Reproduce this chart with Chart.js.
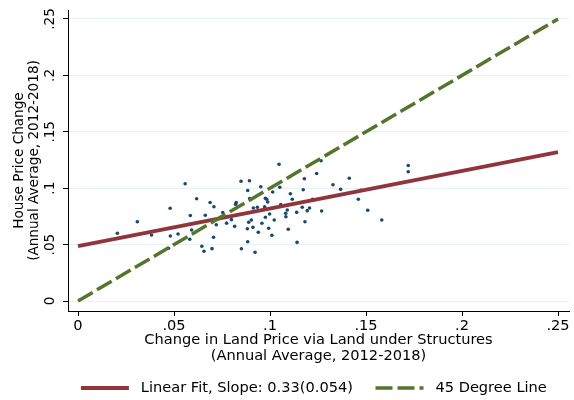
<!DOCTYPE html>
<html>
<head>
<meta charset="utf-8">
<script src="https://cdn.jsdelivr.net/npm/chart.js@4"></script>
<style>
html,body{margin:0;padding:0;background:#ffffff;}
#wrap{width:574px;height:400px;}
</style>
</head>
<body>
<div id="wrap"><canvas id="c" width="574" height="400"></canvas></div>
<script>
// ---- data ----
const landX = [0.0205,0.0309,0.0383,0.0480,0.0481,0.0521,0.0558,0.0471,0.0585,0.0592,0.0582,0.0618,0.0663,0.0645,0.0656,0.0688,0.0706,0.0698,0.0708,0.0720,0.0754,0.0774,0.0799,0.0816,0.0821,0.0824,0.0849,0.0893,0.0884,0.0952,0.0894,0.0882,0.0884,0.0851,0.0922,0.0889,0.0903,0.0911,0.0913,0.0934,0.0939,0.0958,0.0972,0.0976,0.0976,0.0983,0.0988,0.0998,0.0993,0.1010,0.1014,0.1022,0.1051,0.1056,0.1082,0.1083,0.1090,0.1095,0.1106,0.1116,0.1141,0.1139,0.1168,0.1173,0.1179,0.1182,0.1194,0.1206,0.1222,0.1243,0.1269,0.1266,0.1328,0.1368,0.1413,0.1460,0.1472,0.1509,0.1582,0.1720,0.1720,0.1047];
const houseY = [0.0600,0.0703,0.0585,0.0822,0.0576,0.0594,0.1039,0.0468,0.0758,0.0629,0.0548,0.0907,0.0760,0.0485,0.0441,0.0873,0.0565,0.0464,0.0836,0.0676,0.0785,0.0690,0.0721,0.0662,0.0857,0.0873,0.1061,0.1066,0.0980,0.1013,0.0909,0.0641,0.0525,0.0463,0.0432,0.0698,0.0718,0.0653,0.0824,0.0831,0.0609,0.0689,0.0836,0.0742,0.0910,0.0902,0.0878,0.0771,0.0645,0.0582,0.0966,0.0718,0.1008,0.0854,0.0777,0.0747,0.0807,0.0636,0.0951,0.0902,0.0520,0.0786,0.0831,0.0986,0.1084,0.0703,0.0801,0.0824,0.0902,0.1130,0.0798,0.1244,0.1031,0.0990,0.1088,0.0902,0.0982,0.0805,0.0718,0.1201,0.1146,0.1212];

const fitX = [0, 0.25];
const fitY = [0.0487, 0.132];
const diagX = [0, 0.25];
const diagY = [0, 0.25];

const xTicks = [0, 0.05, 0.1, 0.15, 0.2, 0.25];
const yTicks = [0, 0.05, 0.1, 0.15, 0.2, 0.25];

const fitLabel = 'Linear Fit, Slope: 0.33(0.054)';
const diagLabel = '45 Degree Line';
const xTitle = ['Change in Land Price via Land under Structures', '(Annual Average, 2012-2018)'];
const yTitle = ['House Price Change', '(Annual Average, 2012-2018)'];

// ---- styling ----
const FAM = "'DejaVu Sans', sans-serif";
const navy = '#1a476f';
const maroon = '#90353b';
const forest = '#55752f';
const gridCol = '#e6eff1';
const HFS = 14.6;   // horizontal text size
const VFS = 13.6;   // vertical text size
const PAD_BOTTOM = -5.3;
const LEG_PAD = 4;
const legendH = HFS + LEG_PAD + 10;

function fmt(v) {
  if (Math.abs(v) < 1e-9) return '0';
  return v.toFixed(2).replace(/0+$/, '').replace(/^0/, '');
}

const pts = landX.map((x, i) => ({x: x, y: houseY[i]}));
const fitPts = fitX.map((x, i) => ({x: x, y: fitY[i]}));
const diagPts = diagX.map((x, i) => ({x: x, y: diagY[i]}));

new Chart(document.getElementById('c'), {
  type: 'scatter',
  data: {
    datasets: [
      {label: diagLabel, data: diagPts, showLine: true, borderColor: forest, backgroundColor: forest,
       borderWidth: 3.5, borderDash: [17, 5], pointRadius: 0, order: 0},
      {label: fitLabel, data: fitPts, showLine: true, borderColor: maroon, backgroundColor: maroon,
       borderWidth: 3.8, pointRadius: 0, order: 1},
      {label: 'data', data: pts, showLine: false, backgroundColor: navy, borderColor: navy,
       borderWidth: 0, pointRadius: 1.8, order: 2}
    ]
  },
  options: {
    responsive: false,
    animation: false,
    devicePixelRatio: 1,
    layout: {padding: {left: 0, right: 5, top: 10, bottom: PAD_BOTTOM}},
    plugins: {
      tooltip: {enabled: false},
      legend: {
        position: 'bottom',
        fullSize: false,
        labels: {
          usePointStyle: true,
          pointStyleWidth: 48,
          boxHeight: HFS,
          padding: LEG_PAD,
          color: '#000',
          font: {family: FAM, size: HFS},
          generateLabels: (chart) => {
            const ds = chart.data.datasets;
            const mk = (idx, text) => ({
              text: text, datasetIndex: idx, hidden: false,
              fillStyle: ds[idx].borderColor, strokeStyle: ds[idx].borderColor,
              lineWidth: ds[idx].borderWidth, lineDash: ds[idx].borderDash || [],
              lineCap: 'butt', pointStyle: 'line', fontColor: '#000'
            });
            return [mk(1, ' ' + fitLabel + '    '), mk(0, ' ' + diagLabel + '  ')];
          }
        }
      }
    },
    scales: {
      x: {
        type: 'linear',
        min: -10 / 1920,
        max: -10 / 1920 + 501 / 1920,
        afterBuildTicks: (s) => { s.ticks = xTicks.map(v => ({value: v})); },
        afterFit: (s) => { s.height = 400 - PAD_BOTTOM - legendH - 311; },
        border: {display: true, color: '#000', width: 1},
        grid: {drawOnChartArea: false, drawTicks: true, tickLength: 5, tickColor: '#000', tickWidth: 1},
        ticks: {color: '#000', padding: 1, autoSkip: false, maxRotation: 0, minRotation: 0,
                font: {family: FAM, size: HFS}, callback: (v) => fmt(v)},
        title: {display: true, text: xTitle, color: '#000',
                font: {family: FAM, size: HFS, lineHeight: 1.04},
                padding: {top: 0, bottom: 13.4}}
      },
      y: {
        type: 'linear',
        min: -10 / 1128,
        max: -10 / 1128 + 301 / 1128,
        afterBuildTicks: (s) => { s.ticks = yTicks.map(v => ({value: v})); },
        afterFit: (s) => { s.width = 68; },
        border: {display: true, color: '#000', width: 1},
        grid: {color: gridCol, lineWidth: 1, drawTicks: true, tickLength: 5, tickColor: '#000', tickWidth: 1},
        ticks: {color: '#000', padding: 1.4, autoSkip: false, minRotation: 90, maxRotation: 90,
                crossAlign: 'center', font: {family: FAM, size: VFS}, callback: (v) => fmt(v)},
        title: {display: true, text: yTitle, color: '#000',
                font: {family: FAM, size: VFS, lineHeight: 1.12},
                padding: {top: 11.6, bottom: 0}}
      }
    }
  }
});
</script>
</body>
</html>
